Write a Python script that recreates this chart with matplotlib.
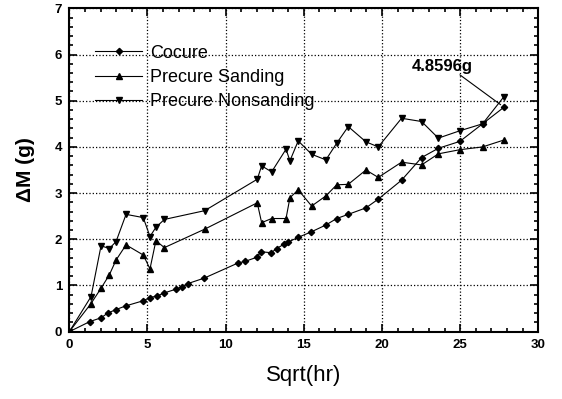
import numpy as np
import matplotlib
matplotlib.use("Agg")
import matplotlib.pyplot as plt
from matplotlib.ticker import MultipleLocator

plt.rcParams['font.family'] = ['Liberation Sans', 'DejaVu Sans']

# data
cocure_x = [0, 1.32, 2.03, 2.45, 2.99, 3.63, 4.73, 5.16, 5.59, 6.08, 6.82, 7.18, 7.57,
            8.63, 10.81, 11.23, 11.98, 12.26, 12.92, 13.26, 13.76, 14.0, 14.62, 15.47,
            16.41, 17.1, 17.84, 18.97, 19.76, 21.25, 22.53, 23.6, 24.98, 26.43, 27.8]
cocure_y = [0, 0.22, 0.30, 0.40, 0.48, 0.56, 0.67, 0.74, 0.77, 0.84, 0.92, 0.97, 1.04,
            1.16, 1.49, 1.52, 1.61, 1.73, 1.71, 1.80, 1.90, 1.94, 2.04, 2.16,
            2.31, 2.45, 2.54, 2.68, 2.87, 3.28, 3.77, 3.97, 4.12, 4.50, 4.86]

prec_x = [0, 1.39, 2.03, 2.56, 2.99, 3.63, 4.73, 5.16, 5.54, 6.08, 8.66, 12.02, 12.3,
          12.94, 13.86, 14.11, 14.64, 15.5, 16.41, 17.1, 17.84, 18.97, 19.76, 21.25,
          22.53, 23.6, 24.98, 26.43, 27.8]
sanding_y = [0, 0.61, 0.94, 1.23, 1.55, 1.88, 1.66, 1.36, 1.97, 1.82, 2.22, 2.79, 2.36,
             2.45, 2.45, 2.90, 3.07, 2.72, 2.94, 3.18, 3.19, 3.50, 3.34, 3.67,
             3.61, 3.85, 3.94, 4.00, 4.15]
nonsanding_y = [0, 0.76, 1.86, 1.80, 1.95, 2.54, 2.47, 2.06, 2.26, 2.43, 2.62, 3.30, 3.59,
                3.46, 3.95, 3.70, 4.13, 3.84, 3.72, 4.08, 4.44, 4.11, 4.00, 4.62,
                4.55, 4.19, 4.35, 4.50, 5.09]

labels = ["Cocure", "Precure Sanding", "Precure Nonsanding"]
note = "4.8596g"

fig = plt.figure(figsize=(5.62, 3.99), dpi=100)
ax = fig.add_axes([0.1233, 0.1687, 0.8347, 0.8104])

ax.plot(cocure_x, cocure_y, '-', color='k', lw=0.8, marker='D', ms=3.2, label=labels[0])
ax.plot(prec_x, sanding_y, '-', color='k', lw=0.8, marker='^', ms=5, label=labels[1])
ax.plot(prec_x, nonsanding_y, '-', color='k', lw=0.8, marker='v', ms=5, label=labels[2])

ax.set_xlim(0, 30)
ax.set_ylim(0, 7)
ax.xaxis.set_major_locator(MultipleLocator(5))
ax.xaxis.set_minor_locator(MultipleLocator(1))
ax.yaxis.set_major_locator(MultipleLocator(1))
ax.yaxis.set_minor_locator(MultipleLocator(0.2))
ax.tick_params(which='both', direction='in', top=True, right=True, width=1.2)
ax.tick_params(which='major', length=6, labelsize=9.5, pad=5)
ax.tick_params(which='minor', length=3)
for lab in ax.get_xticklabels() + ax.get_yticklabels():
    lab.set_fontweight('bold')
for s in ax.spines.values():
    s.set_linewidth(1.5)
ax.grid(True, which='major', linestyle=':', color='k', lw=0.9)

ax.set_xlabel("Sqrt(hr)", fontsize=16, labelpad=10)
ax.set_ylabel("ΔM (g)", fontsize=15, fontweight='bold', labelpad=14)

# label text and its leader line drawn separately
ax.text(21.9, 5.74, note, fontsize=12, fontweight='bold', ha='left', va='center')
ax.annotate("", xy=(cocure_x[-1], cocure_y[-1]), xytext=(24.98, 5.56),
            arrowprops=dict(arrowstyle='-', color='k', lw=0.8, shrinkA=0, shrinkB=3))

leg = ax.legend(loc='upper left', bbox_to_anchor=(0.04, 0.91), frameon=False,
                fontsize=13, handlelength=2.6, handletextpad=0.45, labelspacing=0.4,
                borderaxespad=0)

fig.savefig("out.png", dpi=100)
